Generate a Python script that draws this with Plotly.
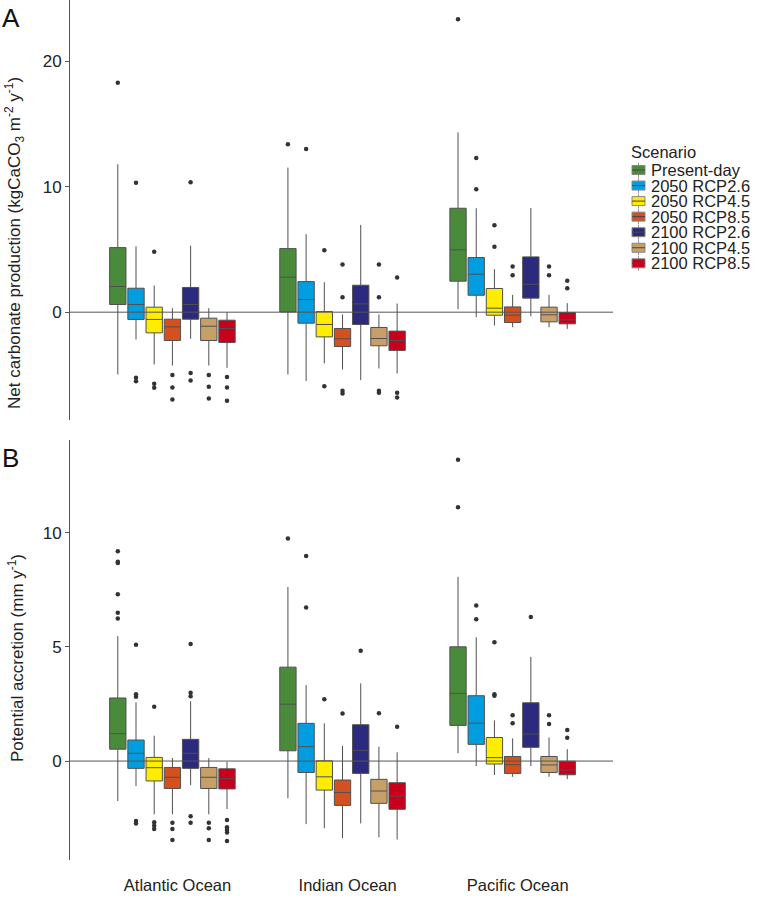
import plotly.graph_objects as go

# ---------------- data ----------------
oceans = ["Atlantic Ocean", "Indian Ocean", "Pacific Ocean"]
scenarios = ["Present-day", "2050 RCP2.6", "2050 RCP4.5", "2050 RCP8.5",
             "2100 RCP2.6", "2100 RCP4.5", "2100 RCP8.5"]
colors = ["#4a8b3b", "#009ee0", "#ffed00", "#d4501f", "#2c2a7e", "#c7a069", "#c8001e"]

# Panel A: net carbonate production, rows = scenario, cols = [Atlantic, Indian, Pacific]
ncp_low = [[-4.97, -4.97, 0.24], [-2.18, -5.5, -0.4], [-4.17, -4.09, -1.06], [-4.25, -4.57, -1.2],
           [-2.12, -5.42, -0.32], [-4.25, -4.49, -1.2], [-4.44, -4.89, -1.33]]
ncp_q1 = [[0.61, 0.02, 2.47], [-0.58, -0.88, 1.35], [-1.65, -1.97, -0.24], [-2.26, -2.74, -0.82],
          [-0.56, -0.98, 1.12], [-2.26, -2.68, -0.77], [-2.42, -3.05, -0.93]]
ncp_med = [[2.05, 2.79, 4.97], [0.61, 1.01, 3.03], [-0.58, -0.98, 0.32], [-1.17, -2.12, -0.24],
           [0.61, 0.66, 2.23], [-1.12, -2.10, -0.21], [-1.3, -2.26, -0.61]]
ncp_q3 = [[5.15, 5.07, 8.29], [1.91, 2.44, 4.36], [0.4, 0.05, 1.89], [-0.56, -1.3, 0.42],
          [1.97, 2.15, 4.41], [-0.48, -1.22, 0.4], [-0.64, -1.51, -0.03]]
ncp_high = [[11.8, 11.53, 14.34], [5.26, 6.22, 8.29], [2.12, 2.39, 3.43], [0.32, -0.18, 1.38],
            [5.31, 6.96, 8.31], [0.32, -0.18, 1.38], [0.0, 0.69, 0.72]]
ncp_out = [
    [[18.3], [13.39], [23.37]],
    [[10.33, -5.23, -5.5], [13.01], [12.3, 9.8]],
    [[4.81, -5.71, -6.03], [4.94, -5.9], [6.93, 5.21]],
    [[-5.02, -6.0, -6.96], [3.8, 1.2, -6.27, -6.48], [3.64, 2.95]],
    [[10.36, -4.86, -5.44], [], []],
    [[-5.02, -5.95, -6.88], [3.8, 1.2, -6.27, -6.43], [3.64, 2.95]],
    [[-5.18, -6.0, -7.07], [2.76, -6.43, -6.8], [2.5, 1.91]],
]

# Panel B: potential accretion
acc_low = [[-1.75, -1.63, 0.34], [-1.09, -2.76, -0.22], [-2.33, -2.94, -0.61], [-2.33, -3.37, -0.69],
           [-1.05, -2.73, -0.22], [-2.33, -3.34, -0.69], [-2.1, -3.43, -0.79]]
acc_q1 = [[0.52, 0.45, 1.56], [-0.32, -0.5, 0.73], [-0.87, -1.27, -0.13], [-1.2, -1.94, -0.54],
          [-0.32, -0.54, 0.6], [-1.2, -1.85, -0.5], [-1.22, -2.11, -0.6]]
acc_med = [[1.2, 2.49, 2.96], [0.34, 0.63, 1.66], [-0.29, -0.69, 0.15], [-0.71, -1.38, -0.16],
           [0.34, 0.47, 1.18], [-0.71, -1.31, -0.17], [-0.77, -1.53, -0.39]]
acc_q3 = [[2.76, 4.11, 5.0], [0.92, 1.65, 2.86], [0.16, 0.01, 1.03], [-0.28, -0.83, 0.2],
          [0.95, 1.59, 2.55], [-0.28, -0.80, 0.2], [-0.34, -0.95, -0.01]]
acc_high = [[5.47, 7.62, 8.06], [2.57, 3.32, 5.42], [1.11, 1.65, 1.78], [0.13, 0.66, 0.99],
            [2.62, 3.40, 4.56], [0.13, 0.63, 1.03], [-0.03, 0.38, 0.52]]
acc_out = [
    [[9.18, 8.72, 8.67, 7.30, 6.49, 6.24], [9.74], [13.19, 11.11]],
    [[5.09, 2.92, 2.81, -2.62, -2.73], [8.97, 6.72], [6.81, 6.21]],
    [[2.38, -2.68, -2.83, -2.97], [2.70], [5.2, 2.92, 2.86]],
    [[-2.70, -2.97, -3.45], [2.08], [2.01, 1.65]],
    [[5.12, 2.99, 2.84, -2.41, -2.70], [4.83], [6.30]],
    [[-2.70, -2.94, -3.45], [2.09], [2.01, 1.62]],
    [[-2.58, -2.9, -3.02, -3.13, -3.5], [1.50], [1.36, 1.02]],
]

# ---------------- layout parameters ----------------
W, H = 762, 897
ML, MR, MT, MB = 70, 149, 0, 37
PW, PH = W - ML - MR, H - MT - MB
FONT = "Arial, Liberation Sans, sans-serif"
SLOT = 0.107      # dodge spacing between scenarios
BOXW = 0.096      # box width
SHIFT = -0.03     # dodge shift relative to the tick


def px2paper(px, py):
    return (px - ML) / PW, (MT + PH - py) / PH


fig = go.Figure()

panels = [
    ("y", ncp_low, ncp_q1, ncp_med, ncp_q3, ncp_high, ncp_out),
    ("y2", acc_low, acc_q1, acc_med, acc_q3, acc_high, acc_out),
]

for yax, low, q1, med, q3, high, outl in panels:
    xa = "x" if yax == "y" else "x2"
    for s, name in enumerate(scenarios):
        pos = [g + 1 + SHIFT + (s - 3) * SLOT for g in range(len(oceans))]
        fig.add_trace(go.Box(
            x=pos, q1=q1[s], median=med[s], q3=q3[s],
            lowerfence=low[s], upperfence=high[s],
            width=BOXW, whiskerwidth=0, boxpoints=False,
            fillcolor=colors[s], line=dict(color="#505050", width=1),
            name=name, showlegend=False, xaxis=xa, yaxis=yax,
        ))
        ox, oy = [], []
        for g in range(len(oceans)):
            for v in outl[s][g]:
                ox.append(pos[g])
                oy.append(v)
        fig.add_trace(go.Scatter(
            x=ox, y=oy, mode="markers",
            marker=dict(color="#333333", size=4.5),
            showlegend=False, xaxis=xa, yaxis=yax, hoverinfo="y",
        ))

xrange = [0.368, 3.56]
common_x = dict(range=xrange, showgrid=False, zeroline=False, showline=False,
                ticks="", tickvals=[1, 2, 3], ticktext=oceans)
fig.update_layout(
    width=W, height=H,
    margin=dict(l=ML, r=MR, t=MT, b=MB),
    paper_bgcolor="white", plot_bgcolor="white",
    font=dict(family=FONT, color="#222222", size=16),
    showlegend=False,
    xaxis=dict(**common_x, anchor="y", showticklabels=False),
    xaxis2=dict(**common_x, anchor="y2", tickfont=dict(size=16.5),
                ticklabelstandoff=13),
    yaxis=dict(domain=[(PH - 420) / PH, 1.0], range=[-8.6, 24.9], dtick=10,
               showgrid=False, zeroline=False, showline=True, linecolor="#555555",
               linewidth=1, ticks="outside", ticklen=4, tickcolor="#555555",
               tickfont=dict(size=17)),
    yaxis2=dict(domain=[0, (PH - 440) / PH], range=[-4.33, 14.05], dtick=5,
                showgrid=False, zeroline=False, showline=True, linecolor="#555555",
                linewidth=1, ticks="outside", ticklen=4, tickcolor="#555555",
                tickfont=dict(size=17)),
)

# zero reference lines (drawn above the boxes, as in the reference)
for yr in ["y", "y2"]:
    fig.add_shape(type="line", xref="x domain", yref=yr, x0=0, x1=1, y0=0, y1=0,
                  line=dict(color="#555555", width=1), layer="above")

# axis titles and panel letters
ax, ay = px2paper(14, 243)
fig.add_annotation(text="Net carbonate production (kgCaCO<sub>3</sub> m<sup>-2</sup> y<sup>-1</sup>)",
                   x=ax, y=ay, xref="paper", yref="paper", textangle=-90,
                   showarrow=False, font=dict(size=17), xanchor="center", yanchor="middle")
bx, by = px2paper(16, 658)
fig.add_annotation(text="Potential accretion (mm y<sup>-1</sup>)",
                   x=bx, y=by, xref="paper", yref="paper", textangle=-90,
                   showarrow=False, font=dict(size=17), xanchor="center", yanchor="middle")
lx, ly = px2paper(0, 18)
fig.add_annotation(text="A", x=lx, y=ly, xref="paper", yref="paper", showarrow=False,
                   xanchor="left", yanchor="middle", font=dict(size=26, color="#111111"))
lx, ly = px2paper(0, 458)
fig.add_annotation(text="B", x=lx, y=ly, xref="paper", yref="paper", showarrow=False,
                   xanchor="left", yanchor="middle", font=dict(size=26, color="#111111"))

# custom compact legend
tx, ty = px2paper(629, 152)
fig.add_annotation(text="Scenario", x=tx, y=ty, xref="paper", yref="paper", showarrow=False,
                   xanchor="left", yanchor="middle", font=dict(size=16.5))
for s, name in enumerate(scenarios):
    cy = 170 + s * 15.55
    x0, y0 = px2paper(632, cy - 4.5)
    x1, y1 = px2paper(645, cy + 4.5)
    xm, _ = px2paper(638.5, cy)
    _, yt = px2paper(0, cy - 7.5)
    _, yb = px2paper(0, cy + 7.5)
    _, ymid = px2paper(0, cy)
    fig.add_shape(type="line", xref="paper", yref="paper", x0=xm, x1=xm, y0=yb, y1=yt,
                  line=dict(color="#999999", width=1))
    fig.add_shape(type="rect", xref="paper", yref="paper", x0=x0, x1=x1, y0=y0, y1=y1,
                  fillcolor=colors[s], line=dict(color="#888888", width=1))
    fig.add_shape(type="line", xref="paper", yref="paper", x0=x0, x1=x1, y0=ymid, y1=ymid,
                  line=dict(color="#444444", width=1))
    nx, ny = px2paper(649, cy)
    fig.add_annotation(text=name, x=nx, y=ny, xref="paper", yref="paper", showarrow=False,
                       xanchor="left", yanchor="middle", font=dict(size=16.5))

fig.write_html("out.html", config={"displayModeBar": False},
               post_script="document.body.style.margin='0';document.body.style.overflow='hidden';")
